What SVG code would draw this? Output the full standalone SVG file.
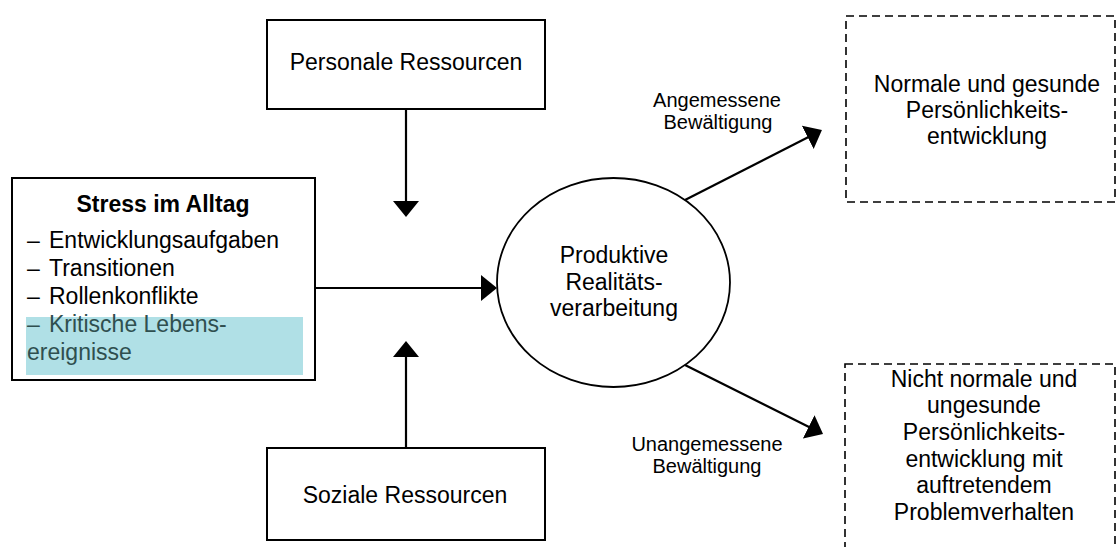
<svg xmlns="http://www.w3.org/2000/svg" width="1118" height="547" viewBox="0 0 1118 547">
  <style>
    .box { fill: #ffffff; stroke: #000000; stroke-width: 2; }
    .dashed { fill: none; stroke: #000000; stroke-width: 1.6; stroke-dasharray: 8 5; }
    .t { font-family: "Liberation Sans", Arial, sans-serif; font-size: 23px; fill: #000000; }
    .c { text-anchor: middle; }
    .b { font-weight: bold; }
    .lbl { font-family: "Liberation Sans", Arial, sans-serif; font-size: 20px; fill: #000000; text-anchor: middle; }
    .hl { fill: #2f4f4f; }
    .conn { stroke: #000000; stroke-width: 2.2; fill: none; marker-end: url(#head); }
  </style>
  <defs>
    <marker id="head" viewBox="0 0 16 26" refX="2" refY="13" markerWidth="16" markerHeight="26" markerUnits="userSpaceOnUse" orient="auto">
      <path d="M0,0 L16,13 L0,26 Z" fill="#000000"/>
    </marker>
  </defs>

  <rect width="1118" height="547" fill="#ffffff"/>

  <!-- connectors -->
  <g id="connectors">
    <line class="conn" x1="406" y1="109" x2="406" y2="203"/>
    <line class="conn" x1="406" y1="448" x2="406" y2="355"/>
    <line class="conn" x1="315" y1="288" x2="483" y2="288"/>
    <line class="conn" x1="685" y1="200" x2="809.5" y2="136.4"/>
    <line class="conn" x1="685" y1="365" x2="810.5" y2="427.7"/>
  </g>

  <g id="personale">
    <rect class="box" x="267" y="20" width="278" height="89"/>
    <text class="t c" x="406" y="70">Personale Ressourcen</text>
  </g>

  <g id="soziale">
    <rect class="box" x="267" y="448" width="278" height="92"/>
    <text class="t c" x="405" y="503">Soziale Ressourcen</text>
  </g>

  <g id="stress">
    <rect class="box" x="12" y="178" width="303" height="202"/>
    <rect x="26" y="317" width="277" height="58" fill="#b0e0e6"/>
    <text class="t c b" x="163" y="212">Stress im Alltag</text>
    <text class="t" x="27" y="248">–</text>
    <text class="t" x="49" y="248">Entwicklungsaufgaben</text>
    <text class="t" x="27" y="276">–</text>
    <text class="t" x="49" y="276">Transitionen</text>
    <text class="t" x="27" y="304">–</text>
    <text class="t" x="49" y="304">Rollenkonflikte</text>
    <text class="t hl" x="27" y="332">–</text>
    <text class="t hl" x="49" y="332">Kritische Lebens-</text>
    <text class="t hl" x="27" y="360">ereignisse</text>
  </g>

  <g id="verarbeitung">
    <ellipse cx="613.5" cy="282.5" rx="116.5" ry="104.5" fill="#ffffff" stroke="#000000" stroke-width="1.8"/>
    <text class="t c" x="614" y="263">Produktive</text>
    <text class="t c" x="614" y="290">Realitäts-</text>
    <text class="t c" x="614" y="316">verarbeitung</text>
  </g>

  <g id="label-angemessen">
    <text class="lbl" x="717" y="107">Angemessene</text>
    <text class="lbl" x="718" y="129">Bewältigung</text>
  </g>

  <g id="label-unangemessen">
    <text class="lbl" x="707" y="451">Unangemessene</text>
    <text class="lbl" x="707" y="473">Bewältigung</text>
  </g>

  <g id="gesund">
    <rect class="dashed" x="846" y="16" width="269" height="186"/>
    <text class="t c" x="987" y="92">Normale und gesunde</text>
    <text class="t c" x="987" y="118">Persönlichkeits-</text>
    <text class="t c" x="987" y="144">entwicklung</text>
  </g>

  <g id="ungesund">
    <rect class="dashed" x="845" y="364" width="270" height="200"/>
    <text class="t c" x="984" y="387">Nicht normale und</text>
    <text class="t c" x="984" y="413">ungesunde</text>
    <text class="t c" x="984" y="440">Persönlichkeits-</text>
    <text class="t c" x="984" y="467">entwicklung mit</text>
    <text class="t c" x="984" y="493">auftretendem</text>
    <text class="t c" x="984" y="520">Problemverhalten</text>
  </g>
</svg>
